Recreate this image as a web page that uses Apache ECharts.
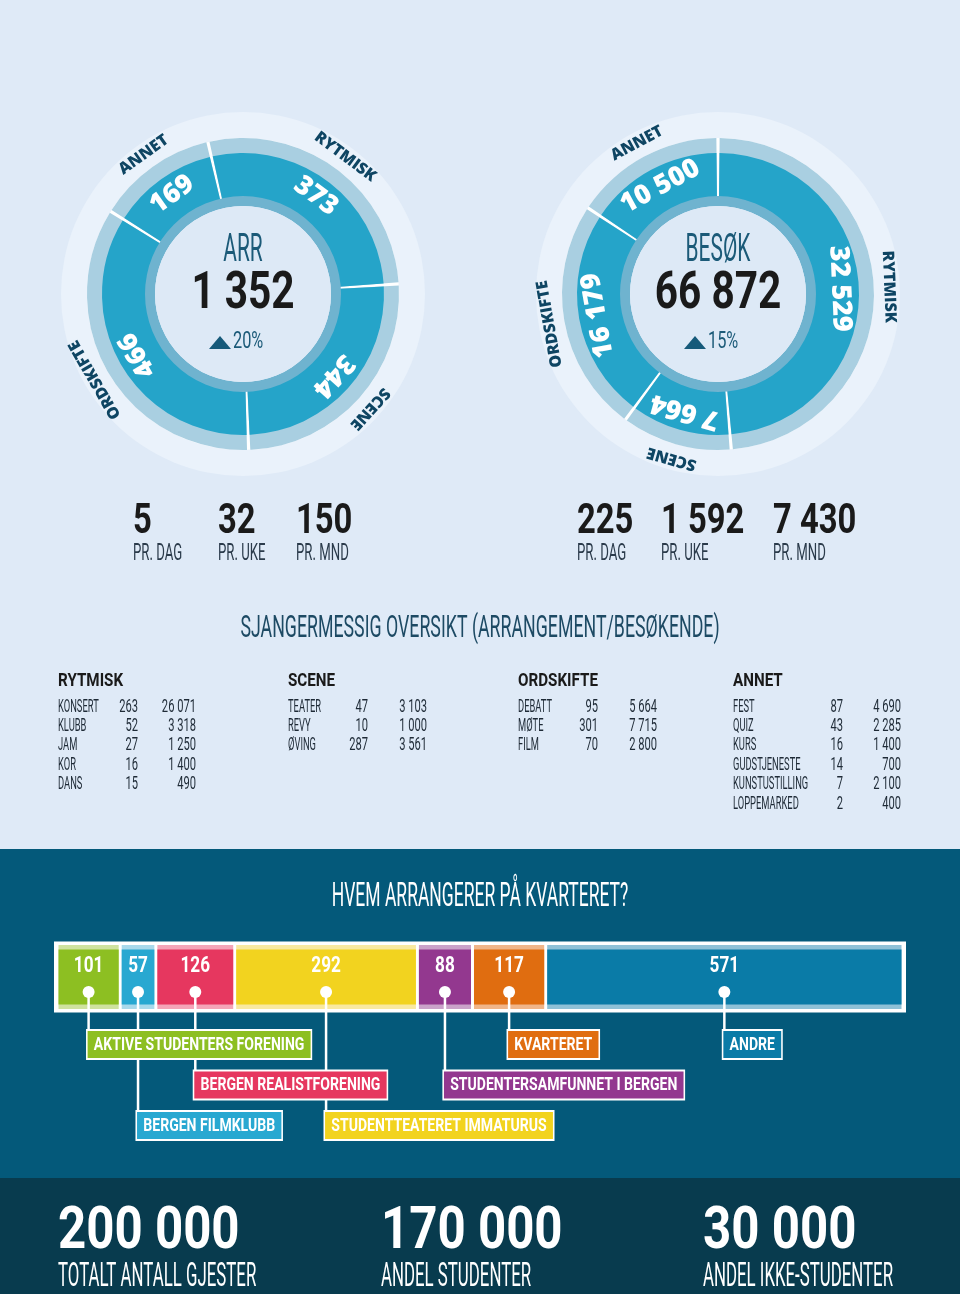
<!DOCTYPE html>
<html>
<head>
<meta charset="utf-8">
<script src="https://cdn.jsdelivr.net/npm/echarts@6/dist/echarts.min.js"></script>
<style>
  html, body { margin: 0; padding: 0; background: #dfeaf7; }
  #chart { width: 960px; height: 1294px; }
</style>
</head>
<body>
<div id="chart"></div>
<script>
// sjangre (donuts)
const genres = ['RYTMISK', 'SCENE', 'ORDSKIFTE', 'ANNET'];
const arrValues = [373, 344, 466, 169];
const visitValues = [32529, 7664, 16179, 10500];
const arrGrowth = '20%';
const visitGrowth = '15%';

// per dag / uke / mnd
const rateLabels = ['PR. DAG', 'PR. UKE', 'PR. MND'];
const arrRates = [5, 32, 150];
const visitRates = [225, 1592, 7430];

// sjangermessig oversikt
const rytmiskNames = ['KONSERT', 'KLUBB', 'JAM', 'KOR', 'DANS'];
const rytmiskArr = [263, 52, 27, 16, 15];
const rytmiskVisits = [26071, 3318, 1250, 1400, 490];
const sceneNames = ['TEATER', 'REVY', 'ØVING'];
const sceneArr = [47, 10, 287];
const sceneVisits = [3103, 1000, 3561];
const ordskifteNames = ['DEBATT', 'MØTE', 'FILM'];
const ordskifteArr = [95, 301, 70];
const ordskifteVisits = [5664, 7715, 2800];
const annetNames = ['FEST', 'QUIZ', 'KURS', 'GUDSTJENESTE', 'KUNSTUSTILLING', 'LOPPEMARKED'];
const annetArr = [87, 43, 16, 14, 7, 2];
const annetVisits = [4690, 2285, 1400, 700, 2100, 400];

// hvem arrangerer
const organizers = ['AKTIVE STUDENTERS FORENING', 'BERGEN FILMKLUBB', 'BERGEN REALISTFORENING',
  'STUDENTTEATERET IMMATURUS', 'STUDENTERSAMFUNNET I BERGEN', 'KVARTERET', 'ANDRE'];
const organizerValues = [101, 57, 126, 292, 88, 117, 571];

// gjester
const guestNumbers = [200000, 170000, 30000];
const guestLabels = ['TOTALT ANTALL GJESTER', 'ANDEL STUDENTER', 'ANDEL IKKE-STUDENTER'];

// styles
const orgColors = ['#8dbf22', '#28a8d1', '#e6375f', '#f2d31f', '#93388f', '#e06d10', '#0a7ba7'];
const orgTints = ['#cfe29f', '#a9d9eb', '#f4a5b8', '#f9e9a0', '#caa2c9', '#f0b589', '#8fc1d7'];
const calloutRow = [0, 2, 1, 2, 1, 0, 0];

const fmt = n => String(n).replace(/\B(?=(\d{3})+(?!\d))/g, ' ');
const sum = a => a.reduce((s, v) => s + v, 0);

// condensed text = Roboto squeezed horizontally
function T(str, x, y, size, weight, fill, align, scale) {
  return {
    type: 'text', x: x, y: y, scaleX: scale, z: 10, silent: true,
    style: { text: str, fill: fill, font: weight + ' ' + size + 'px Roboto, sans-serif',
      textAlign: align, textVerticalAlign: 'middle' }
  };
}

const g = [];
g.push({ type: 'rect', z: 0, silent: true, shape: { x: 0, y: 849, width: 960, height: 330 }, style: { fill: '#04597a' } });
g.push({ type: 'rect', z: 0, silent: true, shape: { x: 0, y: 1178, width: 960, height: 116 }, style: { fill: '#083b4e' } });

function donut(cx, cy, values, startAngle, title, growth) {
  g.push({ type: 'circle', z: 1, silent: true, shape: { cx: cx, cy: cy, r: 182 }, style: { fill: '#eaf2fb' } });
  g.push({ type: 'ring', z: 1, silent: true, shape: { cx: cx, cy: cy, r: 156, r0: 97 }, style: { fill: '#ffffff' } });
  g.push({ type: 'ring', z: 5, silent: true, shape: { cx: cx, cy: cy, r: 98, r0: 88 }, style: { fill: '#6fb3cf' } });
  g.push({ type: 'circle', z: 5, silent: true, shape: { cx: cx, cy: cy, r: 88 }, style: { fill: '#dde9f6' } });
  g.push(T(title, cx, cy - 43, 38, 400, '#1b5a78', 'center', 0.55));
  g.push(T(fmt(sum(values)), cx, cy + 1, 52, 700, '#1a1a1a', 'center', 0.78));
  g.push({ type: 'polygon', z: 10, silent: true,
    shape: { points: [[cx - 34, cy + 55], [cx - 23, cy + 42], [cx - 12, cy + 55]] }, style: { fill: '#165a7a' } });
  g.push(T(growth, cx - 10, cy + 48, 24, 400, '#1b5a78', 'left', 0.68));

  const total = sum(values);
  let acc = 0;
  const rot = values.map(v => {
    const mid = acc + v / 2;
    acc += v;
    return -((90 - startAngle) + 360 * mid / total);
  });
  const base = { type: 'pie', center: [cx, cy], startAngle: startAngle, clockwise: true,
    silent: true, animation: false, padAngle: 1.2, labelLine: { show: false } };
  return [
    Object.assign({}, base, { radius: [97, 156], z: 3, itemStyle: { color: '#a9cfe1' }, label: { show: false },
      data: values.map((v, i) => ({ value: v, name: genres[i] })) }),
    Object.assign({}, base, { radius: [97, 141], z: 4, itemStyle: { color: '#25a4c9' },
      label: { show: true, position: 'inside', color: '#fff', fontFamily: 'Open Sans', fontWeight: 800,
        fontSize: 27, formatter: p => fmt(p.value) },
      data: values.map((v, i) => ({ value: v, name: genres[i], label: { rotate: rot[i] } })) }),
    Object.assign({}, base, { radius: [158, 178], z: 4, padAngle: 0, itemStyle: { color: 'rgba(0,0,0,0)' },
      label: { show: true, position: 'inside', color: '#0e4563', fontFamily: 'Open Sans', fontWeight: 800,
        fontSize: 16, formatter: '{b}' },
      data: values.map((v, i) => ({ value: v, name: genres[i], label: { rotate: rot[i] } })) })
  ];
}

const pies = [].concat(
  donut(243, 294, arrValues, 103, 'ARR', arrGrowth),
  donut(718, 294, visitValues, 90, 'BESØK', visitGrowth)
);

// rates row
const rateX = [[133, 218, 296], [577, 661, 773]];
[arrRates, visitRates].forEach((rates, k) => {
  rates.forEach((v, i) => {
    g.push(T(fmt(v), rateX[k][i], 522, 42, 700, '#1a1a1a', 'left', 0.78));
    g.push(T(rateLabels[i], rateX[k][i], 554, 24, 400, '#2b3b4b', 'left', 0.55));
  });
});

g.push(T('SJANGERMESSIG OVERSIKT (ARRANGEMENT/BESØKENDE)', 480, 629, 32, 400, '#1d4a64', 'center', 0.555));

// table
const tableCols = [
  { x: 58, c: 138, v: 196, names: rytmiskNames, arr: rytmiskArr, visits: rytmiskVisits },
  { x: 288, c: 368, v: 427, names: sceneNames, arr: sceneArr, visits: sceneVisits },
  { x: 518, c: 598, v: 657, names: ordskifteNames, arr: ordskifteArr, visits: ordskifteVisits },
  { x: 733, c: 843, v: 901, names: annetNames, arr: annetArr, visits: annetVisits }
];
tableCols.forEach((col, k) => {
  g.push(T(genres[k], col.x, 681, 19, 700, '#1a1a1a', 'left', 0.8));
  col.names.forEach((n, i) => {
    const y = 707 + i * 19.4;
    g.push(T(n, col.x, y, 18, 400, '#1e2a36', 'left', 0.52));
    g.push(T(fmt(col.arr[i]), col.c, y, 18, 400, '#1e2a36', 'right', 0.62));
    g.push(T(fmt(col.visits[i]), col.v, y, 18, 400, '#1e2a36', 'right', 0.62));
  });
});

g.push(T('HVEM ARRANGERER PÅ KVARTERET?', 480, 897, 34, 400, '#ffffff', 'center', 0.515));
g.push({ type: 'rect', z: 1, silent: true, shape: { x: 54, y: 941.5, width: 852, height: 71 }, style: { fill: '#ffffff' } });

const guestX = [58, 381, 703];
guestNumbers.forEach((n, i) => {
  g.push(T(fmt(n), guestX[i], 1233, 60, 700, '#ffffff', 'left', 0.82));
  g.push(T(guestLabels[i], guestX[i], 1278, 33, 400, '#ffffff', 'left', 0.51));
});

// stacked organizer bar
let run = 0;
const barData = organizerValues.map((v, i) => {
  const d = [run, run + v, v, i, 0];
  run += v;
  return d;
});

function renderOrg(params, api) {
  const i = api.value(3);
  const a = api.coord([api.value(0), 0]);
  const b = api.coord([api.value(1), 0]);
  const h = api.size([0, 1])[1];
  const top = a[1] - h / 2;
  const x0 = a[0] + 1.5;
  const w = b[0] - a[0] - 3;
  const cx = (a[0] + b[0]) / 2;
  const dotY = top + 47;
  const boxY = top + h + 22 + calloutRow[i] * 40.5;
  return {
    type: 'group',
    children: [
      { type: 'rect', z2: 0, shape: { x: x0, y: top, width: w, height: h }, style: { fill: orgTints[i] } },
      { type: 'rect', z2: 1, shape: { x: x0, y: top + 4.5, width: w, height: h - 9 }, style: { fill: orgColors[i] } },
      { type: 'text', z2: 3, x: cx, y: top + 21, scaleX: 0.78,
        style: { text: fmt(api.value(2)), font: '700 22px Roboto, sans-serif', fill: '#fff',
          textAlign: 'center', textVerticalAlign: 'middle' } },
      { type: 'line', z2: 2, shape: { x1: cx, y1: dotY, x2: cx, y2: boxY + 2 }, style: { stroke: '#fff', lineWidth: 2.5 } },
      { type: 'circle', z2: 3, shape: { cx: cx, cy: dotY, r: 6 }, style: { fill: '#fff' } },
      { type: 'text', z2: 10, x: cx - 1, y: boxY, scaleX: 0.78,
        style: { text: organizers[i], font: '700 18px Roboto, sans-serif', fill: '#fff',
          textAlign: 'left', textVerticalAlign: 'top', lineHeight: 18,
          backgroundColor: orgColors[i], borderColor: '#fff', borderWidth: 2, padding: [5, 8, 4, 8] } }
    ]
  };
}

const chart = echarts.init(document.getElementById('chart'));
const option = {
  backgroundColor: '#dfeaf7',
  animation: false,
  graphic: { elements: g },
  grid: { left: 57, top: 945, width: 846, height: 64 },
  xAxis: { type: 'value', min: 0, max: sum(organizerValues), show: false },
  yAxis: { type: 'category', data: ['arr'], show: false },
  series: pies.concat([{
    type: 'custom',
    clip: false,
    silent: true,
    encode: { x: [0, 1], y: 4 },
    renderItem: renderOrg,
    data: barData
  }])
};
option && chart.setOption(option);
</script>
</body>
</html>
